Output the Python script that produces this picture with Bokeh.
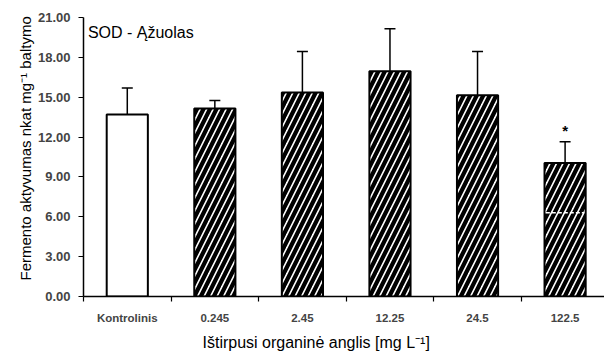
import numpy as np
from bokeh.plotting import figure
from bokeh.models import (ColumnDataSource, FixedTicker, NumeralTickFormatter,
                          CustomJSTickFormatter, Whisker, TeeHead, Label, Range1d, Title)
from bokeh.embed import file_html
from bokeh.resources import INLINE
from bokeh.core.properties import value

categories = ["Kontrolinis", "0.245", "2.45", "12.25", "24.5", "122.5"]
means = [13.7, 14.15, 15.35, 16.95, 15.15, 10.05]
errors = [2.0, 0.6, 3.1, 3.2, 3.3, 1.6]
hatched = [False, True, True, True, True, True]
significant = [False, False, False, False, False, True]
y_ticks = [0, 3, 6, 9, 12, 15, 18, 21]
break_level = 6.3  # white seam visible inside last bar

title_text = "SOD - Ąžuolas"
x_title = "Ištirpusi organinė anglis [mg L⁻¹]"
y_title = "Fermento aktyvumas nkat mg⁻¹ baltymo"

FONT = "Liberation Sans"

x = [i + 0.5 for i in range(len(categories))]
upper = [m + e for m, e in zip(means, errors)]

p = figure(width=604, height=359, output_backend="svg", toolbar_location=None,
           x_range=Range1d(0, 5.95), y_range=Range1d(0, 21),
           min_border_left=83, min_border_right=0, min_border_top=17,
           min_border_bottom=62)
p.outline_line_color = None
p.grid.visible = False
p.background_fill_color = "white"
p.border_fill_color = "white"

plain = ColumnDataSource(dict(x=[xi for xi, h in zip(x, hatched) if not h],
                              top=[m for m, h in zip(means, hatched) if not h]))
hat = ColumnDataSource(dict(x=[xi for xi, h in zip(x, hatched) if h],
                            top=[m for m, h in zip(means, hatched) if h]))

p.vbar(x="x", top="top", bottom=0, width=0.47, source=plain,
       fill_color="white", line_color="black", line_width=2)
p.vbar(x="x", top="top", bottom=0, width=0.47, source=hat,
       fill_color="white", line_color="black", line_width=2,
       hatch_pattern="right_diagonal_line", hatch_color="black",
       hatch_scale=13, hatch_weight=4.2)

# white seam in the last bar
last = len(categories) - 1
p.segment(x0=[x[last] - 0.22], x1=[x[last] + 0.22], y0=[break_level], y1=[break_level],
          line_color="white", line_width=1.5, line_dash="4 2")

err_src = ColumnDataSource(dict(x=x, base=means, upper=upper))
wh = Whisker(base="x", lower="base", upper="upper", source=err_src, dimension="height",
             line_color="black", line_width=1.5,
             upper_head=TeeHead(size=11, line_color="black", line_width=1.5),
             lower_head=None)
p.add_layout(wh)

star_src = ColumnDataSource(dict(x=[xi for xi, s in zip(x, significant) if s],
                                 y=[u + 0.2 for u, s in zip(upper, significant) if s],
                                 t=["*" for s in significant if s]))
p.text(x="x", y="y", text="t", source=star_src, text_align="center",
       text_baseline="bottom", text_font=value(FONT), text_font_size="15px",
       text_font_style="bold", text_color="black")

# axes
p.yaxis.ticker = FixedTicker(ticks=y_ticks)
p.yaxis.formatter = NumeralTickFormatter(format="0.00")
p.yaxis.major_tick_out = 5
p.yaxis.major_tick_in = 0
p.yaxis.minor_tick_line_color = None
p.yaxis.major_label_text_font = FONT
p.yaxis.major_label_text_font_style = "bold"
p.yaxis.major_label_text_font_size = "13px"
p.yaxis.major_label_standoff = 8
p.yaxis.axis_line_width = 1.5
p.yaxis.major_tick_line_width = 1.2

p.xaxis.ticker = FixedTicker(ticks=x, minor_ticks=list(range(len(categories) + 1)))
p.xaxis.formatter = CustomJSTickFormatter(args=dict(labels=categories),
                                          code="return labels[Math.floor(tick)] || '';")
p.xaxis.major_tick_line_color = None
p.xaxis.minor_tick_out = 5
p.xaxis.minor_tick_in = 0
p.xaxis.minor_tick_line_color = "black"
p.xaxis.minor_tick_line_width = 1.2
p.xaxis.major_label_text_font = FONT
p.xaxis.major_label_text_font_style = "bold"
p.xaxis.major_label_text_font_size = "11.5px"
p.xaxis.major_label_standoff = 9
p.xaxis.axis_line_width = 1.5

# x axis title below, shifted left like the reference
p.add_layout(Title(text=x_title, align="left", offset=119, text_font=FONT,
                   text_font_style="normal", text_font_size="16px",
                   text_color="black", vertical_align="top", standoff=14),
             "below")

# y axis title on the left, starting near frame bottom
p.add_layout(Title(text=y_title, align="left", offset=16, text_font=FONT,
                   text_font_style="normal", text_font_size="15px",
                   text_color="black", vertical_align="middle", standoff=0),
             "left")

# chart title inside the frame
p.add_layout(Label(x=0.05, y=19.9, text=title_text, text_align="left",
                   text_baseline="middle", text_font=FONT,
                   text_font_size="16px", text_color="black"))

open("out.html", "w").write(file_html(p, INLINE))
